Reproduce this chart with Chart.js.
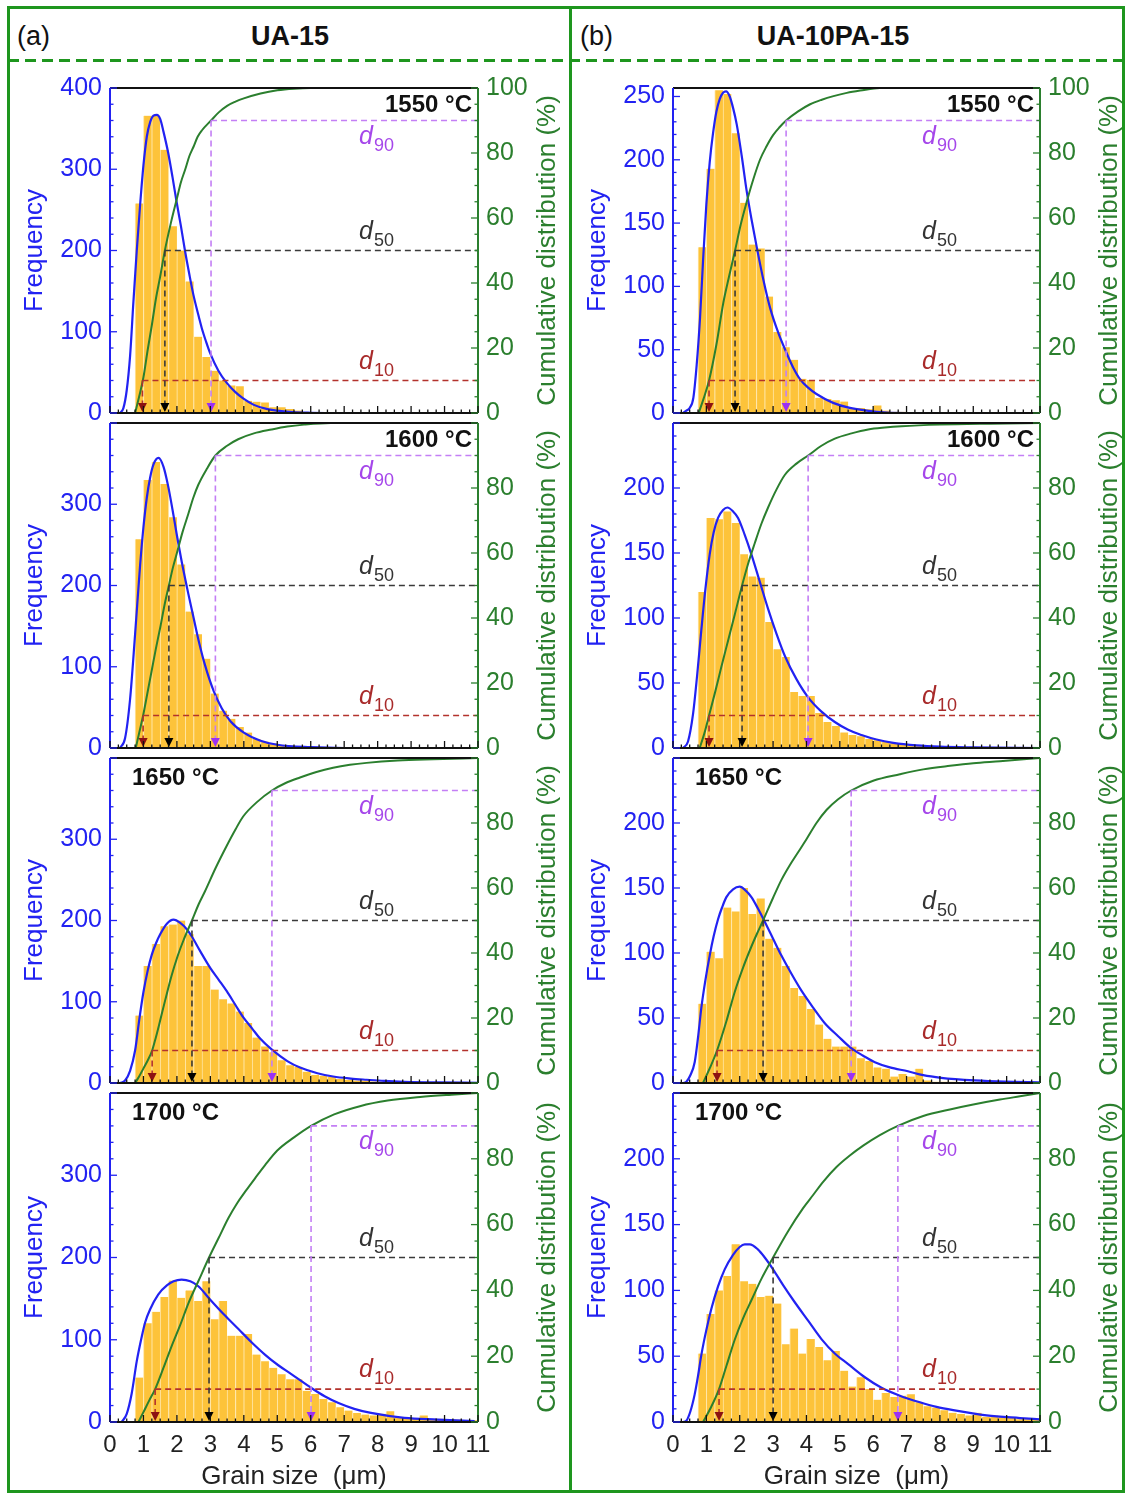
<!DOCTYPE html>
<html>
<head>
<meta charset="utf-8">
<script src="https://cdn.jsdelivr.net/npm/chart.js@4.4.1/dist/chart.umd.min.js"></script>
<style>
  html, body { margin: 0; padding: 0; background: #fff; }
  #page { position: relative; width: 1127px; height: 1494px; overflow: hidden;
          font-family: 'Liberation Sans', Arial, sans-serif; }
  .hdr { position: absolute; font-size: 27px; line-height: 27px; color: #111; white-space: nowrap; }
  canvas { position: absolute; }
</style>
</head>
<body>
<div id="page">
  <svg width="1127" height="1494" style="position:absolute;left:0;top:0">
    <rect x="8.5" y="7.5" width="1115" height="1484" fill="none" stroke="#1e961e" stroke-width="3"/>
    <line x1="8" y1="60.5" x2="1124" y2="60.5" stroke="#1e961e" stroke-width="3" stroke-dasharray="11 6"/>
    <line x1="570.5" y1="7" x2="570.5" y2="1492" stroke="#1e961e" stroke-width="3"/>
  </svg>
  <div class="hdr" style="left:17px;top:23px">(a)</div>
  <div class="hdr" style="left:190px;top:23px;width:200px;text-align:center;font-weight:bold">UA-15</div>
  <div class="hdr" style="left:580px;top:23px">(b)</div>
  <div class="hdr" style="left:683px;top:23px;width:300px;text-align:center;font-weight:bold">UA-10PA-15</div>
</div>
<script>
// histogram bins (0.25 um wide, centres)
const binCenters = [0.875, 1.125, 1.375, 1.625, 1.875, 2.125, 2.375, 2.625, 2.875, 3.125,
  3.375, 3.625, 3.875, 4.125, 4.375, 4.625, 4.875, 5.125, 5.375, 5.625, 5.875, 6.125,
  6.375, 6.625, 6.875, 7.125, 7.375, 7.625, 7.875, 8.125, 8.375, 8.625, 8.875, 9.125,
  9.375, 9.625, 9.875, 10.125, 10.375, 10.625, 10.875];

// (a) UA-15 frequencies
const freqA1550 = [258, 366, 366, 324, 230, 200, 162, 94, 69, 52, 40, 34, 33, 15, 14, 13, 7, 7, 5, 3, 1];
const freqA1600 = [257, 330, 352, 325, 284, 226, 168, 140, 110, 67, 46, 36, 26, 19, 11, 8, 6, 4, 3, 2, 1];
const freqA1650 = [83, 144, 171, 193, 195, 200, 183, 144, 144, 115, 103, 98, 88, 74, 56, 45, 38, 28, 22, 20,
  14, 10, 9, 8, 5, 4, 3, 3, 2, 2, 1, 1];
const freqA1700 = [54, 120, 134, 152, 172, 151, 160, 147, 171, 125, 147, 105, 105, 107, 82, 74, 66, 58, 52, 52,
  38, 34, 28, 24, 18, 14, 11, 9, 8, 10, 13, 6, 5, 5, 8, 4, 4, 3, 3, 2, 2];
// (b) UA-10PA-15 frequencies
const freqB1550 = [131, 193, 255, 252, 221, 166, 133, 130, 92, 64, 52, 42, 27, 26, 12, 11, 10, 9, 4, 4, 3, 6, 2, 1, 1];
const freqB1600 = [120, 177, 176, 182, 173, 149, 132, 131, 97, 76, 70, 43, 40, 40, 27, 20, 17, 12, 10, 9, 7, 6, 5, 4, 3, 2, 2, 1, 1];
const freqB1650 = [61, 101, 96, 135, 132, 150, 130, 142, 111, 104, 90, 73, 67, 57, 45, 34, 28, 28, 28, 19,
  17, 12, 11, 5, 7, 5, 11, 2, 1, 1, 1];
const freqB1700 = [52, 82, 100, 111, 135, 107, 105, 95, 96, 90, 59, 71, 52, 63, 57, 47, 54, 39, 27, 34,
  25, 17, 22, 19, 20, 21, 15, 12, 11, 9, 7, 6, 5, 7, 4, 5, 4, 3, 2, 2, 2];

// fitted curves [size, frequency]
const fitA1550 = [[0.3, 0], [0.4, 6], [0.5, 28], [0.6, 70], [0.7, 137], [0.8, 200], [0.9, 256], [1.0, 305],
  [1.1, 340], [1.2, 358], [1.3, 366], [1.4, 367], [1.5, 362], [1.6, 346], [1.74, 320], [1.87, 290], [1.99, 260],
  [2.12, 230], [2.24, 200], [2.37, 171], [2.49, 146], [2.62, 124], [2.74, 105], [2.87, 88], [2.99, 74], [3.24, 52],
  [3.49, 37], [3.74, 26], [3.98, 18], [4.3, 10], [4.68, 5], [5.0, 3], [5.47, 1], [6.0, 0.3], [7, 0], [11, 0]];
const fitA1600 = [[0.3, 0], [0.45, 12], [0.6, 60], [0.75, 140], [0.9, 225], [1.0, 272], [1.1, 308], [1.2, 333],
  [1.3, 349], [1.45, 357], [1.6, 346], [1.74, 322], [1.87, 293], [1.99, 264], [2.15, 228], [2.34, 190], [2.5, 160],
  [2.65, 132], [2.84, 102], [3.1, 70], [3.34, 49], [3.6, 33], [4.0, 19], [4.5, 9], [5.0, 4], [6.0, 1], [7, 0], [11, 0]];
const fitA1650 = [[0.3, 0], [0.45, 3], [0.6, 15], [0.75, 40], [0.875, 78], [1.0, 112], [1.125, 138], [1.25, 158],
  [1.375, 172], [1.5, 183], [1.7, 196], [1.9, 201], [2.1, 197], [2.3, 189], [2.45, 180], [2.7, 162], [2.99, 142],
  [3.25, 127], [3.49, 113], [3.75, 96], [3.98, 81], [4.25, 67], [4.48, 55], [4.84, 41], [5.3, 27], [5.68, 19],
  [6.2, 12], [6.67, 8], [7.2, 5.5], [7.67, 4], [8.2, 2.5], [8.8, 1.5], [9.8, 0.7], [11, 0.3]];
const fitA1700 = [[0.35, 0], [0.5, 10], [0.65, 35], [0.8, 74], [0.95, 104], [1.05, 121], [1.2, 137], [1.44, 155],
  [1.7, 166], [1.9, 171], [2.14, 173], [2.4, 171], [2.64, 165], [2.99, 149], [3.4, 131], [3.84, 113], [4.23, 97],
  [4.63, 82], [5.03, 69], [5.43, 58], [6.03, 41], [6.43, 31], [6.83, 23], [7.3, 16], [7.8, 11], [8.8, 5], [9.8, 3], [10.9, 1]];
const fitB1550 = [[0.3, 0], [0.41, 2], [0.5, 4], [0.61, 12], [0.71, 38], [0.81, 75], [0.9, 120], [1.0, 165],
  [1.1, 198], [1.2, 221], [1.3, 238], [1.4, 248], [1.5, 253], [1.59, 254], [1.7, 250], [1.8, 241], [1.91, 228],
  [2.06, 203], [2.21, 175], [2.36, 152], [2.51, 131], [2.71, 105], [2.91, 83], [3.16, 63], [3.41, 47], [3.6, 36],
  [3.8, 27], [4.05, 20], [4.3, 15], [4.8, 8], [5.3, 4], [6.1, 1], [7, 0], [11, 0]];
const fitB1600 = [[0.3, 0], [0.45, 5], [0.6, 26], [0.72, 55], [0.85, 91], [0.97, 122], [1.1, 149], [1.22, 166],
  [1.35, 177], [1.5, 183], [1.63, 185], [1.8, 182], [1.95, 177], [2.15, 164], [2.35, 149], [2.6, 128], [2.85, 107],
  [3.1, 88], [3.35, 71], [3.7, 53], [4.05, 39], [4.45, 28], [4.85, 20], [5.25, 14], [5.65, 10], [6.1, 6.5],
  [6.6, 4], [7.3, 2], [8, 1], [9, 0.5], [11, 0]];
const fitB1650 = [[0.3, 0], [0.4, 1], [0.52, 6], [0.65, 16], [0.75, 35], [0.85, 58], [0.97, 79], [1.1, 98],
  [1.22, 113], [1.35, 126], [1.47, 135], [1.6, 143], [1.8, 149], [2.0, 151], [2.18, 148], [2.35, 143], [2.55, 134],
  [2.75, 124], [3.0, 111], [3.25, 98], [3.55, 84], [3.85, 71], [4.2, 58], [4.55, 46], [4.95, 36], [5.33, 27],
  [5.7, 21], [6.05, 16], [6.5, 12], [7.04, 9], [7.5, 6], [8.04, 4], [9.04, 2], [9.94, 1], [11, 0.5]];
const fitB1700 = [[0.3, 0], [0.4, 1], [0.52, 8], [0.65, 21], [0.75, 35], [0.85, 51], [1.0, 70], [1.15, 86],
  [1.35, 103], [1.55, 116], [1.8, 127], [2.0, 133], [2.15, 135], [2.3, 135], [2.55, 131], [2.75, 125], [3.0, 116],
  [3.3, 104], [3.65, 91], [4.05, 77], [4.45, 63], [4.85, 52], [5.25, 44], [5.75, 34], [6.25, 26], [6.8, 20],
  [7.4, 15], [7.9, 11.5], [8.4, 9], [9.4, 5], [10.4, 3], [11, 2]];

// cumulative distribution [size, %]
const cumA1550 = [[0.75, 0], [0.87, 5], [1.0, 11], [1.12, 19], [1.25, 27], [1.37, 35], [1.5, 42], [1.64, 50],
  [1.82, 58.5], [2.0, 66], [2.12, 71], [2.25, 75], [2.37, 79], [2.5, 82], [2.62, 85], [2.75, 87], [3.02, 90],
  [3.25, 92.5], [3.5, 94.5], [3.75, 95.8], [4.0, 96.8], [4.5, 98.3], [5.0, 99.3], [5.5, 99.8], [6.0, 100], [11, 100]];
const cumA1600 = [[0.77, 0], [0.88, 5], [0.99, 10], [1.12, 17], [1.25, 24], [1.37, 30.5], [1.5, 37], [1.63, 44],
  [1.76, 50], [1.88, 55.5], [2.0, 60], [2.17, 66.5], [2.34, 72], [2.49, 77], [2.64, 81], [2.9, 86], [3.15, 90],
  [3.5, 93], [3.83, 95], [4.3, 96.8], [4.83, 98], [5.3, 98.9], [5.8, 99.5], [6.6, 100], [11, 100]];
const cumA1650 = [[0.75, 0], [0.87, 2], [1.0, 4.5], [1.13, 7], [1.26, 10], [1.37, 14], [1.47, 18], [1.65, 25.5],
  [1.84, 33], [2.02, 39], [2.2, 44], [2.45, 50], [2.65, 55], [2.84, 59], [3.15, 66], [3.49, 73], [3.75, 78],
  [3.98, 82], [4.4, 86.5], [4.84, 90], [5.25, 92.3], [5.68, 94], [6.17, 95.7], [6.67, 97], [7.17, 97.9],
  [7.67, 98.5], [8.6, 99.2], [9.66, 99.6], [11, 100]];
const cumA1700 = [[0.85, 0], [1.0, 3], [1.17, 6.5], [1.35, 10], [1.6, 16.5], [1.84, 23], [2.1, 29.5], [2.34, 36],
  [2.65, 43], [2.96, 50], [3.25, 56], [3.54, 62], [3.8, 66.5], [4.04, 70], [4.33, 74], [4.63, 78], [5.0, 82.5],
  [5.5, 86.5], [6.01, 90], [6.7, 93.5], [7.47, 96], [8.3, 97.7], [9.27, 98.8], [10.2, 99.5], [11, 100]];
const cumB1550 = [[0.77, 0], [0.92, 4.5], [1.08, 10], [1.3, 21], [1.51, 34], [1.68, 42], [1.86, 50], [2.03, 58],
  [2.21, 65], [2.41, 72], [2.61, 78], [2.8, 82], [3.0, 85.5], [3.2, 88], [3.39, 90], [3.75, 92.8], [4.11, 95],
  [4.46, 96.4], [4.81, 97.5], [5.21, 98.5], [5.61, 99.2], [6.2, 100], [11, 100]];
const cumB1600 = [[0.8, 0], [0.94, 4.5], [1.08, 10], [1.27, 17.5], [1.45, 25], [1.65, 33], [1.85, 41], [2.07, 50],
  [2.26, 57], [2.45, 63], [2.65, 69], [2.85, 74], [3.1, 79.5], [3.35, 84], [3.7, 87.5], [4.05, 90], [4.45, 93],
  [4.85, 95.2], [5.35, 96.8], [5.85, 98], [6.35, 98.6], [6.85, 99], [8.0, 99.5], [9.5, 99.8], [11, 100]];
const cumB1650 = [[0.9, 0], [1.1, 4.5], [1.32, 10], [1.6, 19], [1.85, 28], [2.1, 35.5], [2.35, 42], [2.52, 46],
  [2.7, 50], [3.0, 57], [3.25, 62.5], [3.5, 67], [3.75, 71], [4.0, 75], [4.3, 80], [4.6, 84], [4.95, 87.3],
  [5.34, 90], [6.0, 93], [6.8, 95], [7.5, 96.5], [8.3, 97.6], [9.0, 98.4], [9.8, 99], [11, 100]];
const cumB1700 = [[0.9, 0], [1.14, 4.5], [1.38, 10], [1.6, 17], [1.85, 25], [2.1, 31.5], [2.35, 37], [2.65, 43.5],
  [3.0, 50], [3.45, 58], [3.9, 65], [4.2, 69], [4.5, 73], [4.9, 77.5], [5.3, 81], [5.7, 84], [6.2, 87.2],
  [6.74, 90], [7.5, 93], [8.3, 95], [9.0, 96.5], [9.8, 98], [10.4, 99], [11, 100]];

// d10, d50, d90 (um)
const dA1550 = [0.97, 1.64, 3.02];
const dA1600 = [0.99, 1.76, 3.15];
const dA1650 = [1.26, 2.45, 4.84];
const dA1700 = [1.35, 2.96, 6.01];
const dB1550 = [1.08, 1.86, 3.39];
const dB1600 = [1.08, 2.07, 4.05];
const dB1650 = [1.32, 2.70, 5.34];
const dB1700 = [1.38, 3.00, 6.74];

const temps = ['1550 °C', '1600 °C', '1650 °C', '1700 °C'];
const xTicks = [0, 1, 2, 3, 4, 5, 6, 7, 8, 9, 10, 11];

const BLUE = '#2222f2';
const GREEN = '#2b7f2e';
const BAR = '#fdc33a';

Chart.defaults.font.family = "'Liberation Sans', Arial, sans-serif";

const rowTop = [83, 418, 753, 1088];
const rowBottom = [418, 753, 1088, 1422];
const colLeft = [10, 573];
const colWidth = [555, 551];
const rightW = [87, 84];

const panels = [
  {col: 0, row: 0, freq: freqA1550, fit: fitA1550, cum: cumA1550, d: dA1550},
  {col: 0, row: 1, freq: freqA1600, fit: fitA1600, cum: cumA1600, d: dA1600},
  {col: 0, row: 2, freq: freqA1650, fit: fitA1650, cum: cumA1650, d: dA1650},
  {col: 0, row: 3, freq: freqA1700, fit: fitA1700, cum: cumA1700, d: dA1700},
  {col: 1, row: 0, freq: freqB1550, fit: fitB1550, cum: cumB1550, d: dB1550},
  {col: 1, row: 1, freq: freqB1600, fit: fitB1600, cum: cumB1600, d: dB1600},
  {col: 1, row: 2, freq: freqB1650, fit: fitB1650, cum: cumB1650, d: dB1650},
  {col: 1, row: 3, freq: freqB1700, fit: fitB1700, cum: cumB1700, d: dB1700}
];

// dashed d-lines, labels, frame and inside ticks
const decor = {
  id: 'decor',
  afterDraw(chart, args, o) {
    const {ctx, chartArea: a} = chart;
    const x = chart.scales.x, y = chart.scales.y, y1 = chart.scales.y1;
    const levels = [10, 50, 90];
    const lineCol = ['#b3322c', '#3a3a3a', '#c47ff5'];
    const headCol = ['#8c1212', '#000000', '#9a30f5'];
    const txtCol = ['#a82a2a', '#333333', '#a546ea'];
    const subs = ['10', '50', '90'];
    ctx.save();
    o.d.forEach((dv, k) => {
      const px = x.getPixelForValue(dv);
      const py = y1.getPixelForValue(levels[k]);
      ctx.strokeStyle = lineCol[k];
      ctx.lineWidth = 1.6;
      ctx.setLineDash([6, 4]);
      ctx.beginPath(); ctx.moveTo(px, py); ctx.lineTo(a.right, py); ctx.stroke();
      ctx.beginPath(); ctx.moveTo(px, py); ctx.lineTo(px, a.bottom - 8); ctx.stroke();
      ctx.setLineDash([]);
      ctx.fillStyle = headCol[k];
      ctx.beginPath();
      ctx.moveTo(px - 4.5, a.bottom - 10); ctx.lineTo(px + 4.5, a.bottom - 10); ctx.lineTo(px, a.bottom - 1);
      ctx.closePath(); ctx.fill();
      // label
      const lx = a.left + 249;
      const ly = k === 2 ? py + 23 : py - 12;
      ctx.fillStyle = txtCol[k];
      ctx.textAlign = 'left'; ctx.textBaseline = 'alphabetic';
      ctx.font = "italic 25px 'Liberation Sans', Arial, sans-serif";
      ctx.fillText('d', lx, ly);
      const w = ctx.measureText('d').width;
      ctx.font = "18px 'Liberation Sans', Arial, sans-serif";
      ctx.fillText(subs[k], lx + w + 1, ly + 7);
    });
    // temperature
    ctx.fillStyle = '#111';
    ctx.font = "bold 24px 'Liberation Sans', Arial, sans-serif";
    ctx.textBaseline = 'middle';
    if (o.row < 2) { ctx.textAlign = 'right'; ctx.fillText(temps[o.row], a.right - 6, a.top + 17); }
    else { ctx.textAlign = 'left'; ctx.fillText(temps[o.row], a.left + 22, a.top + 20); }
    // frame
    ctx.lineWidth = 2;
    ctx.strokeStyle = '#111';
    ctx.beginPath(); ctx.moveTo(a.left, a.top); ctx.lineTo(a.right, a.top); ctx.stroke();
    ctx.beginPath(); ctx.moveTo(a.left, a.bottom); ctx.lineTo(a.right, a.bottom); ctx.stroke();
    ctx.strokeStyle = BLUE;
    ctx.beginPath(); ctx.moveTo(a.left, a.top); ctx.lineTo(a.left, a.bottom); ctx.stroke();
    ctx.strokeStyle = GREEN;
    ctx.beginPath(); ctx.moveTo(a.right, a.top); ctx.lineTo(a.right, a.bottom); ctx.stroke();
    // ticks
    ctx.lineWidth = 1.3;
    ctx.strokeStyle = '#111';
    for (let i = 0; i <= 44; i++) {
      const px = x.getPixelForValue(i * 0.25);
      const len = i % 4 === 0 ? 7 : 3.5;
      ctx.beginPath(); ctx.moveTo(px, a.bottom); ctx.lineTo(px, a.bottom - len); ctx.stroke();
    }
    ctx.strokeStyle = BLUE;
    for (let v = 0; v <= y.max + 0.01; v += o.minor) {
      const py = y.getPixelForValue(v);
      const len = Math.round(v) % o.major === 0 ? 7 : 3.5;
      ctx.beginPath(); ctx.moveTo(a.left, py); ctx.lineTo(a.left + len, py); ctx.stroke();
    }
    ctx.strokeStyle = GREEN;
    for (let v = 0; v <= 100; v += 5) {
      const py = y1.getPixelForValue(v);
      const len = v % 20 === 0 ? 7 : 3.5;
      ctx.beginPath(); ctx.moveTo(a.right, py); ctx.lineTo(a.right - len, py); ctx.stroke();
    }
    // right axis title (reads bottom to top)
    ctx.translate(a.right + 70, (a.top + a.bottom) / 2);
    ctx.rotate(-Math.PI / 2);
    ctx.fillStyle = GREEN;
    ctx.font = "26px 'Liberation Sans', Arial, sans-serif";
    ctx.textAlign = 'center'; ctx.textBaseline = 'middle';
    ctx.fillText('Cumulative distribution (%)', 0, 0);
    ctx.restore();
  }
};

const page = document.getElementById('page');

panels.forEach(p => {
  const last = p.row === 3;
  const top = rowTop[p.row] - 18;
  const h = last ? 1494 - top : rowBottom[p.row] - rowTop[p.row] + 36;
  const cv = document.createElement('canvas');
  cv.width = colWidth[p.col];
  cv.height = h;
  cv.style.left = colLeft[p.col] + 'px';
  cv.style.top = top + 'px';
  page.appendChild(cv);

  const fmax = p.col === 0 ? 400 : (p.row === 0 ? 256.7 : 250);
  let freqTicks = p.col === 0 ? [0, 100, 200, 300, 400] : [0, 50, 100, 150, 200, 250];
  let cumTicks = [0, 20, 40, 60, 80, 100];
  if (p.row > 0) {
    freqTicks = freqTicks.filter(v => v < fmax);
    cumTicks = cumTicks.filter(v => v < 100);
  }

  new Chart(cv, {
    type: 'bar',
    data: {
      datasets: [
        {
          type: 'line', data: p.cum.map(c => ({x: c[0], y: c[1]})), yAxisID: 'y1',
          borderColor: GREEN, borderWidth: 2, pointRadius: 0, fill: false,
          cubicInterpolationMode: 'monotone', order: 0
        },
        {
          type: 'line', data: p.fit.map(c => ({x: c[0], y: c[1]})), yAxisID: 'y',
          borderColor: BLUE, borderWidth: 2.2, pointRadius: 0, fill: false,
          cubicInterpolationMode: 'monotone', order: 1
        },
        {
          type: 'bar', data: p.freq.map((v, i) => ({x: binCenters[i], y: v})), yAxisID: 'y',
          backgroundColor: BAR, borderColor: '#ffe6a6',
          borderWidth: {left: 1, right: 0, top: 0, bottom: 0},
          barPercentage: 1, categoryPercentage: 1, order: 2
        }
      ]
    },
    options: {
      responsive: false,
      animation: false,
      events: [],
      layout: {padding: {top: 18, bottom: last ? 0 : 18, left: 0, right: 0}},
      plugins: {
        legend: {display: false},
        tooltip: {enabled: false},
        decor: {d: p.d, row: p.row, minor: p.col === 0 ? 20 : 10, major: p.col === 0 ? 100 : 50}
      },
      scales: {
        x: {
          type: 'linear', min: 0, max: 11, offset: false, display: last,
          grid: {display: false, drawTicks: false}, border: {display: false},
          afterBuildTicks: s => { s.ticks = xTicks.map(v => ({value: v})); },
          ticks: {color: '#222', font: {size: 24}, padding: 9, autoSkip: false, maxRotation: 0, minRotation: 0},
          title: {display: true, text: 'Grain size  (μm)', color: '#222', font: {size: 26}, padding: {top: 0, bottom: 2}},
          afterFit: s => { if (last) s.height = 72; }
        },
        y: {
          position: 'left', min: 0, max: fmax,
          grid: {display: false, drawTicks: false}, border: {display: false},
          afterBuildTicks: s => { s.ticks = freqTicks.map(v => ({value: v})); },
          ticks: {color: BLUE, font: {size: 25}, padding: 8},
          title: {display: true, text: 'Frequency', color: BLUE, font: {size: 26}, padding: {top: 9, bottom: 0}},
          afterFit: s => { s.width = 100; }
        },
        y1: {
          position: 'right', min: 0, max: 100,
          grid: {display: false, drawTicks: false}, border: {display: false},
          afterBuildTicks: s => { s.ticks = cumTicks.map(v => ({value: v})); },
          ticks: {color: GREEN, font: {size: 25}, padding: 8},
          afterFit: s => { s.width = rightW[p.col]; }
        }
      }
    },
    plugins: [decor]
  });
});
</script>
</body>
</html>
